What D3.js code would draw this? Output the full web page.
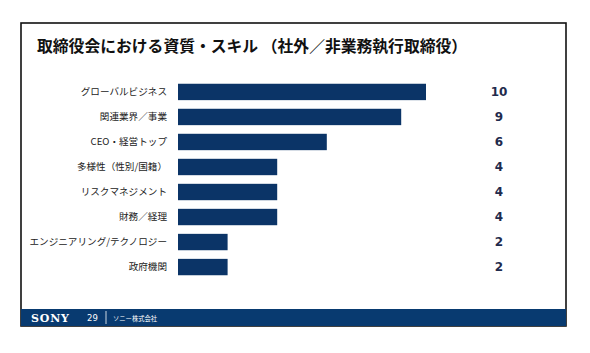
<!DOCTYPE html>
<html><head><meta charset="utf-8">
<script src="https://cdn.jsdelivr.net/npm/d3@7"></script>
<style>
html,body{margin:0;padding:0;background:#fff;}
svg{display:block;}
</style></head>
<body>
<svg id="c" width="590" height="353"></svg>
<script>
const title = "取締役会における資質・スキル （社外／非業務執行取締役）";
const categories = ["グローバルビジネス","関連業界／事業","CEO・経営トップ","多様性（性別/国籍）","リスクマネジメント","財務／経理","エンジニアリング/テクノロジー","政府機関"];
const values = [10, 9, 6, 4, 4, 4, 2, 2];
const footerBrand = "SONY";
const footerPage = "29";
const footerCompany = "ソニー株式会社";

const svg = d3.select("#c");
const jp = "'Noto Sans CJK JP','Noto Sans',sans-serif";

// frame
svg.append("rect").attr("x",21).attr("y",23).attr("width",545).attr("height",303)
  .attr("fill","#fff").attr("stroke","#111").attr("stroke-width",1.6);

// title
svg.append("text").attr("x",37).attr("y",51.5).text(title)
  .attr("font-family",jp).attr("font-weight","bold").attr("font-size",15.8).attr("fill","#111");

const x = d3.scaleLinear().domain([0,10]).range([178,426]);
const y = d3.scaleBand().domain(categories).range([79.5,279.5]).paddingInner(0.345).paddingOuter(0.17);

svg.append("g").selectAll("rect").data(values).join("rect")
  .attr("x",x(0)).attr("y",(d,i)=>y(categories[i]))
  .attr("width",d=>x(d)-x(0)).attr("height",y.bandwidth())
  .attr("fill","#0b3467");

svg.append("g").selectAll("text").data(categories).join("text")
  .attr("x",167).attr("y",d=>y(d)+y.bandwidth()/2).attr("dy","0.35em")
  .attr("text-anchor","end").text(d=>d)
  .attr("font-family",jp).attr("font-size",9.6).attr("fill","#222");

svg.append("g").selectAll("text").data(values).join("text")
  .attr("x",499).attr("y",(d,i)=>y(categories[i])+y.bandwidth()/2).attr("dy","0.36em")
  .attr("text-anchor","middle").text(d=>d)
  .attr("font-family","'DejaVu Sans',Verdana,sans-serif").attr("font-weight","bold")
  .attr("font-size",12).attr("fill","#1f2b4d");

// footer
svg.append("rect").attr("x",21).attr("y",309).attr("width",545).attr("height",17).attr("fill","#083a70");
svg.append("text").attr("x",31).attr("y",321.5).text(footerBrand)
  .attr("font-family","'DejaVu Serif','Liberation Serif',serif").attr("font-weight","bold")
  .attr("font-size",11).attr("letter-spacing",0.8).attr("fill","#fff");
svg.append("text").attr("x",87).attr("y",321).text(footerPage)
  .attr("font-family","'DejaVu Sans',sans-serif").attr("font-size",8.5).attr("fill","#fff");
svg.append("line").attr("x1",106).attr("x2",106).attr("y1",311).attr("y2",324).attr("stroke","#fff").attr("stroke-width",0.8);
svg.append("text").attr("x",113).attr("y",320.5).text(footerCompany)
  .attr("font-family",jp).attr("font-size",6.3).attr("fill","#fff");
</script>
</body></html>
